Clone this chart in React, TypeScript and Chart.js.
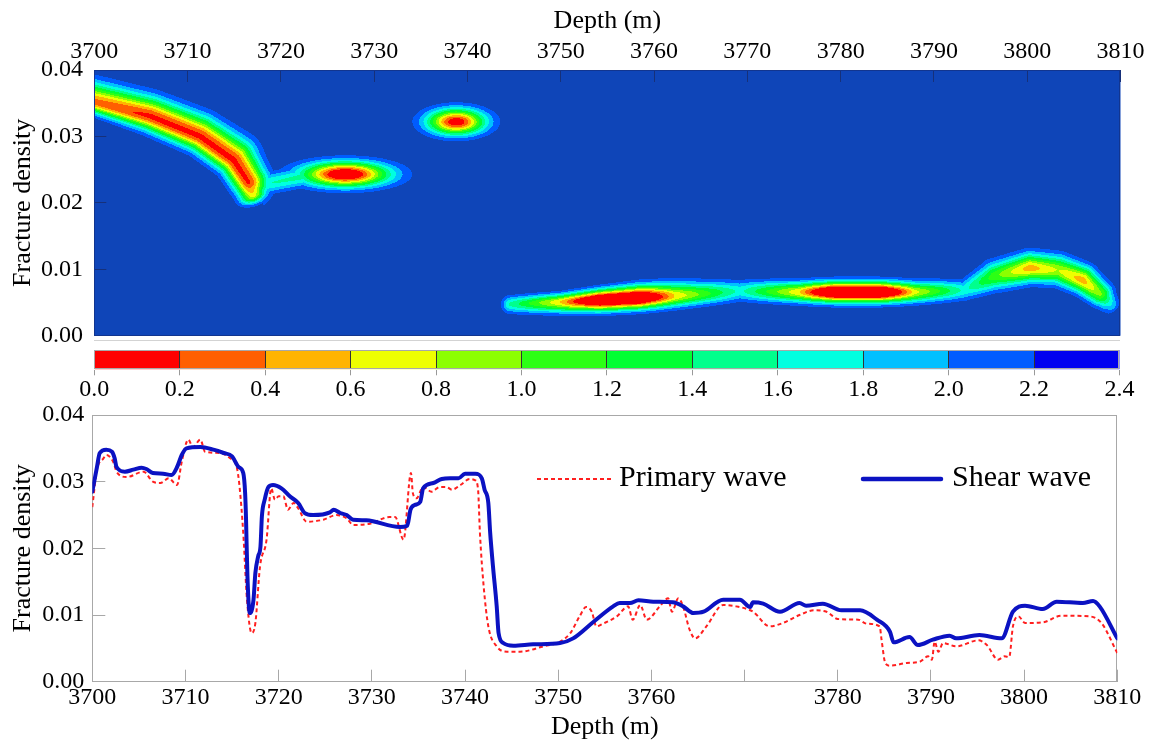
import React, { useEffect, useRef } from 'react';
import { Chart, registerables } from 'chart.js';

Chart.register(...registerables);

const FONT = '"Liberation Serif", "Times New Roman", Times, serif';

// ---------- ticks / labels ----------
const depthTicks = [3700, 3710, 3720, 3730, 3740, 3750, 3760, 3770, 3780, 3790, 3800, 3810];
const topDepthLabels = ['3700', '3710', '3720', '3730', '3740', '3750', '3760', '3770', '3780', '3790', '3800', '3810'];
const bottomDepthLabels = ['3700', '3710', '3720', '3730', '3740', '3750', '3760', '', '3780', '3790', '3800', '3810'];
const densityTicks = [0, 0.01, 0.02, 0.03, 0.04];
const densityLabels = ['0.00', '0.01', '0.02', '0.03', '0.04'];
const colorbarTicks = [0, 0.2, 0.4, 0.6, 0.8, 1.0, 1.2, 1.4, 1.6, 1.8, 2.0, 2.2, 2.4];
const colorbarLabels = ['0.0', '0.2', '0.4', '0.6', '0.8', '1.0', '1.2', '1.4', '1.6', '1.8', '2.0', '2.2', '2.4'];
const levelColors = ['#ff0000', '#ff5f00', '#ffb400', '#eeff00', '#8cff00', '#2cff14', '#00ff32', '#00ff8c', '#00ffe0', '#00c0ff', '#005cff', '#0000f0'];
const contourBackground = '#0f45b8';

// ---------- contour ridges: [depth, density, peak, alongSpread(m), upSpread, downSpread] ----------
const ridgeUpperCore: number[][] = [
  [3699.5, 0.0353, 0.86, 1.0, 0.00190, 0.00100],
  [3706.0, 0.0330, 0.94, 1.0, 0.00190, 0.00140],
  [3711.3, 0.0300, 0.94, 1.0, 0.00200, 0.00150],
  [3714.9, 0.0264, 0.94, 1.0, 0.00220, 0.00150],
  [3716.5, 0.0231, 0.93, 1.0, 0.00190, 0.00150],
  [3717.0, 0.0212, 0.72, 0.6, 0.00140, 0.00140],
];
const ridgeConnector: number[][] = [
  [3717.2, 0.0225, 0.32, 0.5, 0.00110, 0.00100],
  [3722.6, 0.0240, 0.36, 0.5, 0.00100, 0.00100],
];
const blobMiddle: number[][] = [[3726.9, 0.0243, 1.10, 3.16, 0.00126, 0.00126]];
const blobSmall: number[][] = [[3738.8, 0.0322, 1.00, 2.11, 0.00132, 0.00132]];
const ridgeLower: number[][] = [
  [3744.6, 0.00477, 0.35, 0.6, 0.00080, 0.00090],
  [3749.9, 0.00507, 0.75, 0.6, 0.00080, 0.00100],
  [3754.2, 0.00537, 1.25, 0.6, 0.00100, 0.00105],
  [3758.5, 0.00567, 1.25, 0.6, 0.00120, 0.00105],
  [3762.2, 0.00597, 0.75, 0.6, 0.00130, 0.00105],
  [3769.2, 0.00672, 0.30, 0.6, 0.00105, 0.00100],
  [3775.6, 0.00657, 0.75, 0.6, 0.00100, 0.00100],
  [3779.4, 0.00657, 1.30, 0.6, 0.00100, 0.00100],
  [3784.2, 0.00657, 1.30, 0.6, 0.00100, 0.00100],
  [3788.0, 0.00657, 0.70, 0.6, 0.00100, 0.00100],
  [3793.3, 0.00687, 0.30, 0.6, 0.00100, 0.00100],
  [3796.5, 0.00898, 0.55, 0.6, 0.00140, 0.00135],
  [3800.3, 0.01018, 0.80, 0.6, 0.00145, 0.00135],
  [3803.3, 0.00988, 0.66, 0.6, 0.00145, 0.00135],
  [3805.9, 0.00838, 0.80, 0.6, 0.00140, 0.00125],
  [3807.8, 0.00627, 0.60, 0.6, 0.00125, 0.00115],
  [3809.1, 0.00447, 0.22, 0.4, 0.00100, 0.00100],
];
const contourRidges = [ridgeUpperCore, ridgeConnector, blobMiddle, blobSmall, ridgeLower];

// ---------- line series ----------
const shearDepth = [3700, 3700.5, 3700.8, 3701.5, 3702.1, 3702.4, 3702.6, 3703.5, 3704.4, 3705.3, 3705.8, 3706.5, 3707.6, 3708.5, 3709.1, 3709.6, 3710.1, 3711.6, 3713.0, 3714.1, 3715.0, 3715.7, 3716.2, 3716.4, 3716.5, 3716.55, 3716.65, 3716.9, 3717.3, 3717.5, 3717.8, 3718.05, 3718.2, 3718.5, 3718.9, 3719.4, 3720.3, 3721.2, 3722.1, 3722.8, 3723.7, 3725.5, 3725.9, 3726.6, 3727.3, 3728.0, 3729.4, 3733.0, 3733.8, 3734.15, 3734.6, 3735.2, 3735.5, 3736.6, 3737.5, 3738.4, 3739.3, 3740.0, 3741.1, 3741.8, 3742.1, 3742.5, 3742.7, 3743.0, 3743.4, 3743.6, 3744.1, 3745.2, 3747.3, 3750.2, 3751.6, 3753.8, 3755.9, 3756.6, 3757.7, 3758.6, 3760.2, 3762.3, 3763.4, 3764.5, 3765.6, 3767.7, 3769.5, 3770.6, 3770.9, 3772.0, 3773.8, 3775.9, 3776.6, 3778.4, 3780.4, 3782.4, 3784.2, 3785.6, 3786.0, 3787.7, 3788.6, 3790.2, 3792.0, 3792.7, 3795.2, 3797.6, 3798.8, 3800.1, 3802.0, 3803.5, 3806.3, 3807.4, 3808.1, 3810.0];
const shearDensity = [0.0285, 0.0322, 0.0343, 0.0348, 0.0345, 0.0335, 0.0322, 0.0315, 0.0318, 0.0321, 0.0319, 0.0313, 0.0312, 0.0310, 0.0322, 0.0340, 0.0350, 0.0352, 0.0348, 0.0343, 0.0338, 0.0322, 0.0313, 0.0283, 0.0243, 0.0213, 0.0158, 0.0103, 0.0123, 0.0163, 0.0188, 0.0203, 0.0248, 0.0273, 0.0292, 0.0295, 0.0290, 0.0278, 0.0268, 0.0253, 0.0250, 0.0254, 0.0258, 0.0253, 0.0250, 0.0243, 0.0242, 0.0232, 0.0234, 0.0258, 0.0265, 0.0270, 0.0290, 0.0298, 0.0304, 0.0305, 0.0305, 0.0312, 0.0312, 0.0305, 0.0288, 0.0268, 0.0223, 0.0173, 0.0113, 0.0073, 0.0058, 0.0054, 0.0056, 0.0058, 0.0065, 0.0090, 0.0113, 0.0118, 0.0118, 0.0122, 0.0120, 0.0119, 0.0113, 0.0103, 0.0105, 0.0123, 0.0123, 0.0112, 0.0119, 0.0117, 0.0105, 0.0118, 0.0114, 0.0117, 0.0107, 0.0107, 0.0093, 0.0075, 0.0059, 0.0067, 0.0055, 0.0063, 0.0069, 0.0065, 0.0070, 0.0065, 0.0105, 0.0114, 0.0109, 0.0120, 0.0118, 0.0121, 0.0113, 0.0065];

const primaryDepth = [3700, 3700.5, 3701.2, 3701.5, 3702.3, 3702.6, 3703.7, 3705.5, 3706.5, 3707.3, 3708.2, 3709.1, 3709.6, 3710.3, 3710.8, 3711.6, 3712.1, 3713.7, 3714.8, 3715.5, 3715.8, 3716.2, 3716.6, 3717.1, 3717.5, 3718.0, 3718.7, 3719.2, 3719.6, 3720.0, 3720.5, 3721.0, 3721.6, 3722.1, 3723.0, 3724.8, 3726.2, 3727.3, 3728.0, 3729.8, 3731.9, 3732.5, 3733.4, 3734.2, 3734.4, 3734.8, 3735.5, 3736.4, 3737.3, 3738.0, 3738.6, 3739.5, 3740.5, 3741.1, 3741.4, 3741.6, 3742.0, 3742.5, 3743.4, 3744.5, 3745.9, 3748.4, 3750.2, 3751.3, 3752.3, 3753.0, 3753.6, 3754.1, 3754.8, 3756.3, 3757.5, 3758.0, 3758.8, 3759.5, 3760.9, 3761.8, 3762.2, 3762.9, 3763.4, 3764.1, 3764.7, 3765.9, 3767.7, 3769.1, 3770.9, 3772.7, 3774.1, 3775.9, 3777.4, 3778.8, 3780.0, 3782.2, 3783.1, 3784.5, 3784.7, 3785.1, 3785.6, 3787.4, 3788.8, 3789.7, 3790.1, 3790.4, 3790.8, 3791.3, 3792.7, 3795.1, 3796.0, 3797.2, 3797.9, 3798.4, 3798.8, 3799.4, 3800.1, 3802.0, 3804.0, 3807.0, 3808.3, 3810.0];
const primaryDensity = [0.0262, 0.0318, 0.0335, 0.0340, 0.0328, 0.0315, 0.0307, 0.0315, 0.0300, 0.0298, 0.0305, 0.0295, 0.0330, 0.0363, 0.0352, 0.0363, 0.0345, 0.0343, 0.0335, 0.0322, 0.0293, 0.0223, 0.0123, 0.0073, 0.0088, 0.0173, 0.0213, 0.0290, 0.0273, 0.0278, 0.0278, 0.0258, 0.0268, 0.0260, 0.0240, 0.0243, 0.0250, 0.0245, 0.0235, 0.0237, 0.0247, 0.0247, 0.0213, 0.0313, 0.0283, 0.0275, 0.0292, 0.0285, 0.0292, 0.0292, 0.0288, 0.0295, 0.0304, 0.0302, 0.0288, 0.0223, 0.0143, 0.0083, 0.0053, 0.0045, 0.0045, 0.0053, 0.0060, 0.0073, 0.0098, 0.0112, 0.0105, 0.0083, 0.0087, 0.0098, 0.0113, 0.0093, 0.0115, 0.0093, 0.0113, 0.0125, 0.0105, 0.0125, 0.0113, 0.0078, 0.0065, 0.0083, 0.0115, 0.0113, 0.0105, 0.0083, 0.0088, 0.0100, 0.0107, 0.0105, 0.0094, 0.0093, 0.0087, 0.0083, 0.0063, 0.0028, 0.0024, 0.0028, 0.0030, 0.0038, 0.0033, 0.0060, 0.0045, 0.0058, 0.0053, 0.0062, 0.0055, 0.0033, 0.0038, 0.0037, 0.0083, 0.0098, 0.0088, 0.0089, 0.0099, 0.0098, 0.0088, 0.0043];

const seriesNames = ['Primary wave', 'Shear wave'];

// ---------- helpers ----------
function hexToRgb(h: string) {
  const n = parseInt(h.slice(1), 16);
  return [(n >> 16) & 255, (n >> 8) & 255, n & 255];
}

type Seg = any;

function buildSegments(xs: any, ys: any): Seg[] {
  const segs: Seg[] = [];
  const toPx = (n: number[]) => {
    const X = xs.getPixelForValue(n[0]);
    const Y = ys.getPixelForValue(n[1]);
    return {
      X, Y, a: n[2],
      al: Math.abs(xs.getPixelForValue(n[0] + n[3]) - X),
      up: Math.abs(ys.getPixelForValue(n[1] + n[4]) - Y),
      dn: Math.abs(ys.getPixelForValue(n[1] + n[5]) - Y),
    };
  };
  for (const ridge of contourRidges) {
    const nodes = ridge.map(toPx);
    if (nodes.length === 1) {
      const n = nodes[0];
      const maxS = Math.max(n.al, n.up, n.dn);
      const R = maxS * Math.sqrt(2 * Math.log(Math.max(n.a, 0.09) / 0.083)) + 2;
      segs.push({ single: true, ...n, minX: n.X - R, maxX: n.X + R, minY: n.Y - R, maxY: n.Y + R });
      continue;
    }
    for (let k = 0; k < nodes.length - 1; k++) {
      const p = nodes[k], q = nodes[k + 1];
      const dx = q.X - p.X, dy = q.Y - p.Y;
      const len = Math.hypot(dx, dy) || 1;
      const tx = dx / len, ty = dy / len;
      const maxS = Math.max(p.al, p.up, p.dn, q.al, q.up, q.dn);
      const maxA = Math.max(p.a, q.a);
      const R = maxS * Math.sqrt(2 * Math.log(Math.max(maxA, 0.09) / 0.083)) + 2;
      segs.push({
        single: false, x0: p.X, y0: p.Y, dx, dy, len, tx, ty, nx: ty, ny: -tx,
        a0: p.a, a1: q.a, u0: p.up, u1: q.up, d0: p.dn, d1: q.dn,
        al0: p.al, al1: q.al, startCap: k === 0, endCap: k === nodes.length - 2,
        minX: Math.min(p.X, q.X) - R, maxX: Math.max(p.X, q.X) + R,
        minY: Math.min(p.Y, q.Y) - R, maxY: Math.max(p.Y, q.Y) + R,
      });
    }
  }
  return segs;
}

function fieldAt(px: number, py: number, segs: Seg[]) {
  let best = 0;
  for (const s of segs) {
    if (px < s.minX || px > s.maxX || py < s.minY || py > s.maxY) continue;
    let I = 0;
    if (s.single) {
      const dx = px - s.X, dy = py - s.Y;
      const sy = dy < 0 ? s.up : s.dn;
      I = s.a * Math.exp(-0.5 * (dx * dx / (s.al * s.al) + dy * dy / (sy * sy)));
    } else {
      const wx = px - s.x0, wy = py - s.y0;
      const t = (wx * s.tx + wy * s.ty) / s.len;
      const tc = t < 0 ? 0 : t > 1 ? 1 : t;
      const ex = px - (s.x0 + tc * s.dx), ey = py - (s.y0 + tc * s.dy);
      const u = ex * s.tx + ey * s.ty;
      const v = ex * s.nx + ey * s.ny;
      const a = s.a0 + tc * (s.a1 - s.a0);
      const sy = v > 0 ? s.u0 + tc * (s.u1 - s.u0) : s.d0 + tc * (s.d1 - s.d0);
      let su = sy;
      if (t < 0 && s.startCap) su = s.al0;
      else if (t > 1 && s.endCap) su = s.al1;
      I = a * Math.exp(-0.5 * (u * u / (su * su) + v * v / (sy * sy)));
    }
    if (I > best) best = I;
  }
  return best;
}

const contourPlugin = {
  id: 'contourField',
  beforeDraw(chart: any) {
    const { ctx, chartArea: ca, scales } = chart;
    const segs = buildSegments(scales.x, scales.y);
    const x0 = Math.floor(ca.left), y0 = Math.floor(ca.top);
    const W = Math.ceil(ca.right) - x0, H = Math.ceil(ca.bottom) - y0;
    const off = document.createElement('canvas');
    off.width = W; off.height = H;
    const octx = off.getContext('2d')!;
    const img = octx.createImageData(W, H);
    const rgb = levelColors.map(hexToRgb);
    const bg = hexToRgb(contourBackground);
    const vmax = colorbarTicks[colorbarTicks.length - 1];
    const step = vmax / levelColors.length;
    for (let j = 0; j < H; j++) {
      const py = y0 + j + 0.5;
      for (let i = 0; i < W; i++) {
        const px = x0 + i + 0.5;
        const I = fieldAt(px, py, segs);
        const v = vmax * (1 - I);
        let idx = Math.floor(v / step);
        if (idx < 0) idx = 0;
        const c = idx >= levelColors.length - 1 ? bg : rgb[idx];
        const o = (j * W + i) * 4;
        img.data[o] = c[0]; img.data[o + 1] = c[1]; img.data[o + 2] = c[2]; img.data[o + 3] = 255;
      }
    }
    octx.putImageData(img, 0, 0);
    ctx.save();
    ctx.beginPath();
    ctx.rect(ca.left, ca.top, ca.right - ca.left, ca.bottom - ca.top);
    ctx.clip();
    ctx.drawImage(off, x0, y0);
    ctx.restore();
  },
};

const makeFrame = (id: string, color: string, hook: string) => ({
  id,
  [hook](chart: any) {
    const { ctx, chartArea: a } = chart;
    ctx.save();
    ctx.strokeStyle = color;
    ctx.lineWidth = 1;
    ctx.strokeRect(Math.round(a.left) + 0.5, Math.round(a.top) + 0.5, Math.round(a.right - a.left) - 1, Math.round(a.bottom - a.top) - 1);
    ctx.restore();
  },
});

const legendOffsetX = [444.7, 770.7];
const legendSampleLength = [74, 78];
const legendTextGap = [8, 11];
const legendLineWidth = [2, 4.5];

const insideLegend = {
  id: 'insideLegend',
  afterDatasetsDraw(chart: any) {
    const { ctx, chartArea: a } = chart;
    const y = a.top + 64;
    chart.data.datasets.forEach((ds: any, i: number) => {
      const x = a.left + legendOffsetX[i];
      ctx.save();
      ctx.strokeStyle = ds.borderColor;
      ctx.lineWidth = legendLineWidth[i];
      ctx.lineCap = i === 1 ? 'round' : 'butt';
      ctx.setLineDash(ds.borderDash || []);
      ctx.beginPath();
      ctx.moveTo(x, y);
      ctx.lineTo(x + legendSampleLength[i], y);
      ctx.stroke();
      ctx.setLineDash([]);
      ctx.fillStyle = '#000';
      ctx.font = `30px ${FONT}`;
      ctx.textBaseline = 'middle';
      ctx.textAlign = 'left';
      ctx.fillText(ds.label, x + legendSampleLength[i] + legendTextGap[i], y - 1);
      ctx.restore();
    });
  },
};

const tickFont = { family: FONT, size: 24 };
const titleFont = { family: FONT, size: 26 };

function fixAxis(size: number, horizontal: boolean) {
  return (s: any) => {
    if (horizontal) s.height = size; else s.width = size;
    s.paddingLeft = 0; s.paddingRight = 0; s.paddingTop = 0; s.paddingBottom = 0;
  };
}

export default function App() {
  const topRef = useRef<HTMLCanvasElement>(null);
  const barRef = useRef<HTMLCanvasElement>(null);
  const lineRef = useRef<HTMLCanvasElement>(null);

  useEffect(() => {
    const navy = '#16307a';
    const top = new Chart(topRef.current!, {
      type: 'scatter',
      data: { datasets: [] },
      plugins: [contourPlugin, makeFrame('topFrame', '#12358f', 'beforeDatasetsDraw')],
      options: {
        responsive: false, animation: false, devicePixelRatio: 1,
        layout: { padding: { left: 0, top: 0, right: 29.5, bottom: 14.3 } },
        plugins: { legend: { display: false }, tooltip: { enabled: false } },
        scales: {
          x: {
            type: 'linear', position: 'top', min: 3700, max: 3810,
            afterBuildTicks: (s: any) => { s.ticks = depthTicks.map((v) => ({ value: v })); },
            afterFit: fixAxis(70, true),
            ticks: { font: tickFont, color: '#000', padding: 15.6, maxRotation: 0, autoSkip: false, callback: (_v: any, i: number) => topDepthLabels[i] },
            grid: { drawOnChartArea: false, tickLength: -12, color: navy },
            border: { color: navy },
            title: { display: true, text: 'Depth (m)', font: titleFont, color: '#000', padding: { top: 6, bottom: 0 } },
          },
          y: {
            type: 'linear', position: 'left', min: 0, max: 0.04,
            afterBuildTicks: (s: any) => { s.ticks = densityTicks.map((v) => ({ value: v })); },
            afterFit: fixAxis(94.3, false),
            ticks: { font: tickFont, color: '#000', padding: 23.3, autoSkip: false, callback: (_v: any, i: number) => densityLabels[i] },
            grid: { drawOnChartArea: false, tickLength: -12, color: navy },
            border: { color: navy },
            title: { display: true, text: 'Fracture density', font: titleFont, color: '#000', padding: { top: 7.4, bottom: 0 } },
          },
        },
      },
    } as any);

    const bar = new Chart(barRef.current!, {
      type: 'bar',
      data: {
        labels: [''],
        datasets: levelColors.map((c, i) => ({
          label: colorbarLabels[i],
          data: [[colorbarTicks[i], colorbarTicks[i + 1]]],
          backgroundColor: c,
          borderWidth: 0,
          grouped: false,
          barPercentage: 1,
          categoryPercentage: 1,
        })),
      },
      plugins: [makeFrame('barFrame', '#a8a8a8', 'afterDraw')],
      options: {
        indexAxis: 'y',
        responsive: false, animation: false, devicePixelRatio: 1,
        layout: { padding: { left: 94.3, top: 10, right: 30.5, bottom: 0 } },
        plugins: { legend: { display: false }, tooltip: { enabled: false } },
        scales: {
          x: {
            type: 'linear', position: 'bottom', min: 0, max: 2.4,
            afterBuildTicks: (s: any) => { s.ticks = colorbarTicks.map((v) => ({ value: v })); },
            afterFit: fixAxis(40.7, true),
            ticks: { font: tickFont, color: '#000', padding: 0, maxRotation: 0, autoSkip: false, callback: (_v: any, i: number) => colorbarLabels[i] },
            grid: {
              z: 1, drawOnChartArea: true, tickLength: 6, tickColor: '#999',
              color: (c: any) => (c.index === 0 || c.index === colorbarTicks.length - 1 ? 'rgba(0,0,0,0)' : '#333'),
            },
            border: { color: '#a8a8a8' },
          },
          y: { display: false },
        },
      },
    } as any);

    const line = new Chart(lineRef.current!, {
      type: 'line',
      data: {
        datasets: [
          {
            label: seriesNames[0],
            data: primaryDepth.map((d, i) => ({ x: d, y: primaryDensity[i] })),
            borderColor: '#ff1f1f', borderWidth: 2, borderDash: [4, 3],
            pointRadius: 0, cubicInterpolationMode: 'monotone', order: 1, fill: false,
          },
          {
            label: seriesNames[1],
            data: shearDepth.map((d, i) => ({ x: d, y: shearDensity[i] })),
            borderColor: '#0b12c2', borderWidth: 4, borderCapStyle: 'round', borderJoinStyle: 'round',
            pointRadius: 0, cubicInterpolationMode: 'monotone', order: 0, fill: false,
          },
        ],
      },
      plugins: [makeFrame('lineFrame', '#a8a8a8', 'beforeDatasetsDraw'), insideLegend],
      options: {
        responsive: false, animation: false, devicePixelRatio: 1,
        layout: { padding: { left: 0, top: 15, right: 32.7, bottom: 0 } },
        plugins: { legend: { display: false }, tooltip: { enabled: false } },
        scales: {
          x: {
            type: 'linear', position: 'bottom', min: 3700, max: 3810,
            afterBuildTicks: (s: any) => { s.ticks = depthTicks.map((v) => ({ value: v })); },
            afterFit: fixAxis(65.3, true),
            ticks: { font: tickFont, color: '#000', padding: 13.4, maxRotation: 0, autoSkip: false, callback: (_v: any, i: number) => bottomDepthLabels[i] },
            grid: { drawOnChartArea: false, tickLength: -12, color: '#a8a8a8' },
            border: { color: '#a8a8a8' },
            title: { display: true, text: 'Depth (m)', font: titleFont, color: '#000', padding: { top: 0, bottom: 4.4 } },
          },
          y: {
            type: 'linear', position: 'left', min: 0, max: 0.04,
            afterBuildTicks: (s: any) => { s.ticks = densityTicks.map((v) => ({ value: v })); },
            afterFit: fixAxis(92.3, false),
            ticks: { font: tickFont, color: '#000', padding: 21, autoSkip: false, callback: (_v: any, i: number) => densityLabels[i] },
            grid: { drawOnChartArea: false, tickLength: -13, color: '#a8a8a8' },
            border: { color: '#a8a8a8' },
            title: { display: true, text: 'Fracture density', font: titleFont, color: '#000', padding: { top: 7.4, bottom: 0 } },
          },
        },
      },
    } as any);

    return () => { top.destroy(); bar.destroy(); line.destroy(); };
  }, []);

  return (
    <div style={{ position: 'fixed', left: 0, top: 0, width: 1150, height: 747, background: '#fff' }}>
      <canvas ref={topRef} width={1150} height={350} style={{ position: 'absolute', left: 0, top: 0 }} />
      <canvas ref={barRef} width={1150} height={70} style={{ position: 'absolute', left: 0, top: 340 }} />
      <canvas ref={lineRef} width={1150} height={347} style={{ position: 'absolute', left: 0, top: 400 }} />
    </div>
  );
}
